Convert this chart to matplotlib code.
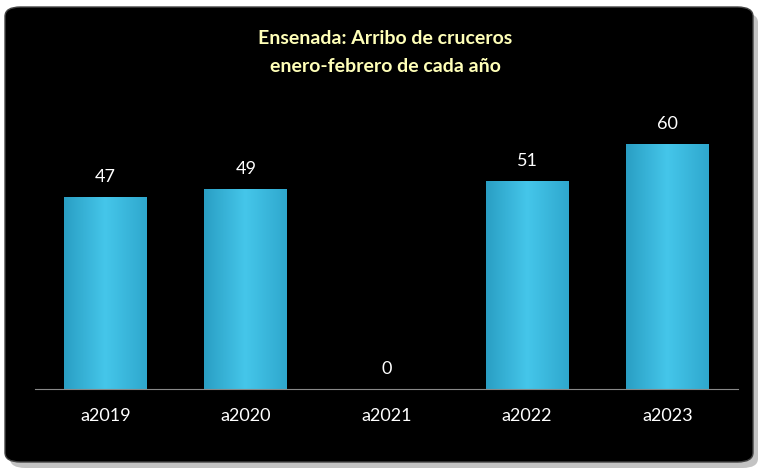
import numpy as np
import matplotlib
matplotlib.use('Agg')
import matplotlib.pyplot as plt
from matplotlib.patches import FancyBboxPatch
from matplotlib.colors import LinearSegmentedColormap

plt.rcParams['font.family'] = ['Lato', 'DejaVu Sans']

years = ['a2019', 'a2020', 'a2021', 'a2022', 'a2023']
arrivals = [47, 49, 0, 51, 60]

fig = plt.figure(figsize=(7.7, 4.7), dpi=100)
fig.patch.set_facecolor('white')

# black rounded panel with a soft shadow
shadow = FancyBboxPatch((10 / 770, 2 / 470), 748 / 770, 455 / 470, boxstyle='round,pad=0,rounding_size=0.02',
                        transform=fig.transFigure, facecolor='#888888', edgecolor='none', alpha=0.5, zorder=-2)
panel = FancyBboxPatch((5 / 770, 8 / 470), 748 / 770, 455 / 470, boxstyle='round,pad=0,rounding_size=0.02',
                       transform=fig.transFigure, facecolor='black', edgecolor='#444444', lw=1, zorder=-1)
fig.patches.extend([shadow, panel])

ax = fig.add_axes([35 / 770, 81 / 470, 703 / 770, 359 / 470])
ax.set_zorder(5)
ax.set_facecolor('none')
x = np.arange(len(years))
bars = ax.bar(x, arrivals, width=0.59, color='#3BBDE2')

cmap = LinearSegmentedColormap.from_list('cyan', ['#2A9FC4', '#45C6EA', '#2FA8CE'])
grad = np.linspace(0, 1, 100).reshape(1, -1)
for b in bars:
    if b.get_height() <= 0:
        continue
    im = ax.imshow(grad, extent=[b.get_x(), b.get_x() + b.get_width(), 0, b.get_height()],
                   aspect='auto', cmap=cmap, zorder=2)
    im.set_clip_path(b)

for xi, v in zip(x, arrivals):
    ax.text(xi, v + 3, str(v), ha='center', va='bottom', color='white', fontsize=13)

ax.set_xlim(-0.5, len(years) - 0.5)
ax.set_ylim(0, 88)
ax.set_xticks(x)
ax.set_xticklabels(years, color='white', fontsize=13)
ax.tick_params(axis='x', length=0, pad=14)
ax.set_yticks([])
for s in ['top', 'right', 'left']:
    ax.spines[s].set_visible(False)
ax.spines['bottom'].set_color('#888888')

fig.text(0.5, 432 / 470, 'Ensenada: Arribo de cruceros', ha='center', va='center',
         color='#FFFFB8', fontsize=14, fontweight='bold')
fig.text(0.5, 404 / 470, 'enero-febrero de cada año', ha='center', va='center',
         color='#FFFFB8', fontsize=14, fontweight='bold')

fig.savefig('out.png', dpi=100, facecolor='white')
